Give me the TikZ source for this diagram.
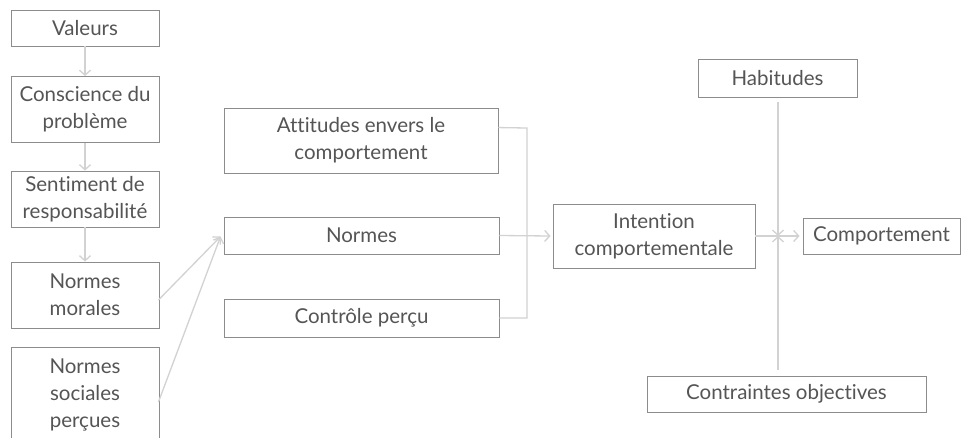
\documentclass[tikz,border=0pt]{standalone}
\usepackage{fontspec}
\setmainfont{Lato}[Ligatures={NoCommon}]
\usetikzlibrary{arrows.meta,calc}
\definecolor{txt}{HTML}{555555}
\definecolor{bord}{HTML}{8C8C8C}
\definecolor{arrc}{HTML}{D2D2D2}
\begin{document}
\begin{tikzpicture}[x=1pt,y=-1pt,
  box/.style={draw=bord, line width=0.9pt, text=txt, align=center, inner sep=0pt,
    font=\fontsize{20.5}{27}\selectfont},
  arr/.style={draw=arrc, line width=1.3pt, -{Straight Barb[length=5pt,width=11pt]}},
  ln/.style={draw=arrc, line width=1.3pt}]
\clip (0,0) rectangle (970,437);
\fill[white] (0,0) rectangle (970,437);
% left column
\node[box, minimum width=148pt, minimum height=36pt] (val) at (85,28) {Valeurs};
\node[box, minimum width=148pt, minimum height=66pt] (con) at (85,109.5) {Conscience du\\probl\`eme};
\node[box, minimum width=148pt, minimum height=56pt] (sen) at (85,199) {Sentiment de\\responsabilit\'e};
\node[box, minimum width=148pt, minimum height=66pt] (mor) at (85,295) {Normes\\morales};
\node[box, minimum width=148pt, minimum height=96pt] (soc) at (85,395) {Normes\\sociales\\per\c{c}ues};
% middle column
\node[box, minimum width=274pt, minimum height=65pt] (att) at (361,140.5) {Attitudes envers le\\comportement};
\node[box, minimum width=275pt, minimum height=37pt] (nor) at (361.5,235.5) {Normes};
\node[box, minimum width=275pt, minimum height=38pt] (ctl) at (361.5,318) {Contr\^ole per\c{c}u};
% right part
\node[box, minimum width=202pt, minimum height=64pt] (int) at (654,236) {Intention\\comportementale};
\node[box, minimum width=159pt, minimum height=38pt] (hab) at (777.5,78) {Habitudes};
\node[box, minimum width=157pt, minimum height=36pt] (cmp) at (881.5,236) {Comportement};
\node[box, minimum width=279pt, minimum height=36pt] (ctr) at (786.5,394) {Contraintes objectives};
% coordinates
\coordinate (j1) at (527,128);
\coordinate (j2) at (527,318);
\coordinate (hx) at (778,102);
\coordinate (cx) at (778,370);
\coordinate (xx) at (778,236);
% connectors
\draw[arr] (val.south) -- (con.north);
\draw[arr] (con.south) -- (sen.north);
\draw[arr] (sen.south) -- (mor.north);
\draw[arr] ($(mor.east)+(-1,5)$) -- ($(nor.west)+(-3,1)$);
\draw[arr] ($(soc.east)+(-1,7)$) -- ($(nor.west)+(-3,1)$);
\draw[ln] ($(att.north east)+(0,20)$) -- (j1) -- (j2) -- (ctl.east);
\draw[arr] (nor.east) -- ($(int.west)+(-2,0)$);
\draw[arr] (int.east) -- ($(cmp.west)+(-3,0)$);
\draw[arr] (hx) -- (xx);
\draw[arr] (cx) -- (xx);
\end{tikzpicture}
\end{document}
